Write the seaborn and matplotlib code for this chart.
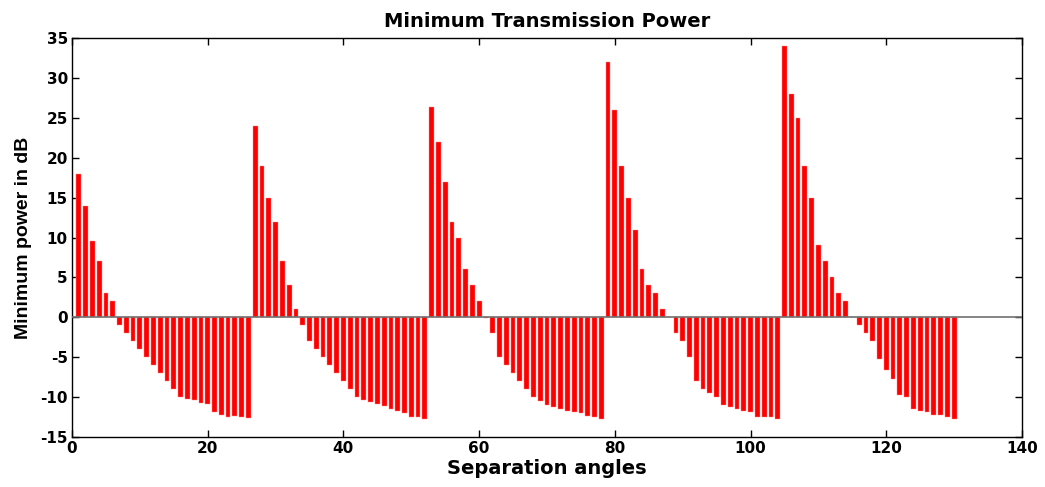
import matplotlib
matplotlib.use("Agg")
import matplotlib.pyplot as plt
import seaborn as sns
import numpy as np

# Separation angles 1..130 and minimum power (dB)
angles = list(range(1, 131))
power = [
    # 1-26
    18, 14, 9.5, 7, 3, 2, -1, -2, -3, -4, -5, -6, -7, -8, -9, -10,
    -10.25, -10.4, -10.7, -10.85, -11.85, -12.25, -12.5, -12.35, -12.5, -12.65,
    # 27-52
    24, 19, 15, 12, 7, 4, 1, -1, -3, -4, -5, -6, -7, -8, -9, -10,
    -10.4, -10.6, -10.9, -11.1, -11.5, -11.7, -12, -12.5, -12.5, -12.75,
    # 53-78
    26.4, 22, 17, 12, 10, 6, 4, 2, -0.1, -2, -5, -6, -7, -8, -9, -10,
    -10.5, -11, -11.25, -11.5, -11.75, -11.85, -12.05, -12.35, -12.5, -12.75,
    # 79-104
    32, 26, 19, 15, 11, 6, 4, 3, 1, 0, -2, -3, -5, -8, -9, -9.5,
    -10, -11, -11.25, -11.5, -11.75, -11.85, -12.5, -12.5, -12.5, -12.75,
    # 105-130
    34, 28, 25, 19, 15, 9, 7, 5, 3, 2, 0, -1, -2, -3, -5.2, -6.6,
    -7.7, -9.75, -10, -11.5, -11.7, -11.85, -12.25, -12.25, -12.5, -12.7,
]
xticks = [0, 20, 40, 60, 80, 100, 120, 140]
yticks = [-15, -10, -5, 0, 5, 10, 15, 20, 25, 30, 35]

title = "Minimum Transmission Power"
xlabel = "Separation angles"
ylabel = "Minimum power in dB"

sns.set_style("ticks")
plt.rcParams["font.family"] = ["DejaVu Sans"]
plt.rcParams["text.color"] = "black"
plt.rcParams["axes.labelcolor"] = "black"
plt.rcParams["xtick.color"] = "black"
plt.rcParams["ytick.color"] = "black"

fig = plt.figure(figsize=(10.45, 4.87), dpi=100)
ax = fig.add_axes([72 / 1045, 1 - 437 / 487, 950 / 1045, 399 / 487])

sns.barplot(x=angles, y=power, native_scale=True, color="#ff0000",
            saturation=1, width=0.7, errorbar=None, ax=ax,
            edgecolor="#ff9090", linewidth=0.3)

ax.axhline(0, color="#707070", lw=1.2, zorder=3)

ax.set_xlim(0, 140)
ax.set_ylim(-15, 35)
ax.set_xticks(xticks)
ax.set_yticks(yticks)
ax.set_xticklabels([str(t) for t in xticks])
ax.set_yticklabels([str(t) for t in yticks])
ax.tick_params(direction="in", top=True, right=True, length=5, width=1,
               colors="black", labelsize=11, pad=3)
for lab in ax.get_xticklabels() + ax.get_yticklabels():
    lab.set_fontweight("bold")
    lab.set_color("black")
for sp in ax.spines.values():
    sp.set_visible(True)
    sp.set_color("black")
    sp.set_linewidth(1)

ax.set_title(title, fontsize=14, fontweight="bold", pad=8, color="black")
ax.set_xlabel(xlabel, fontsize=14, fontweight="bold", labelpad=2, color="black")
ax.set_ylabel(ylabel, fontsize=14, fontweight="bold", labelpad=6, color="black",
              family=["Liberation Sans", "DejaVu Sans"])

fig.savefig("out.png", dpi=100, facecolor="white")
